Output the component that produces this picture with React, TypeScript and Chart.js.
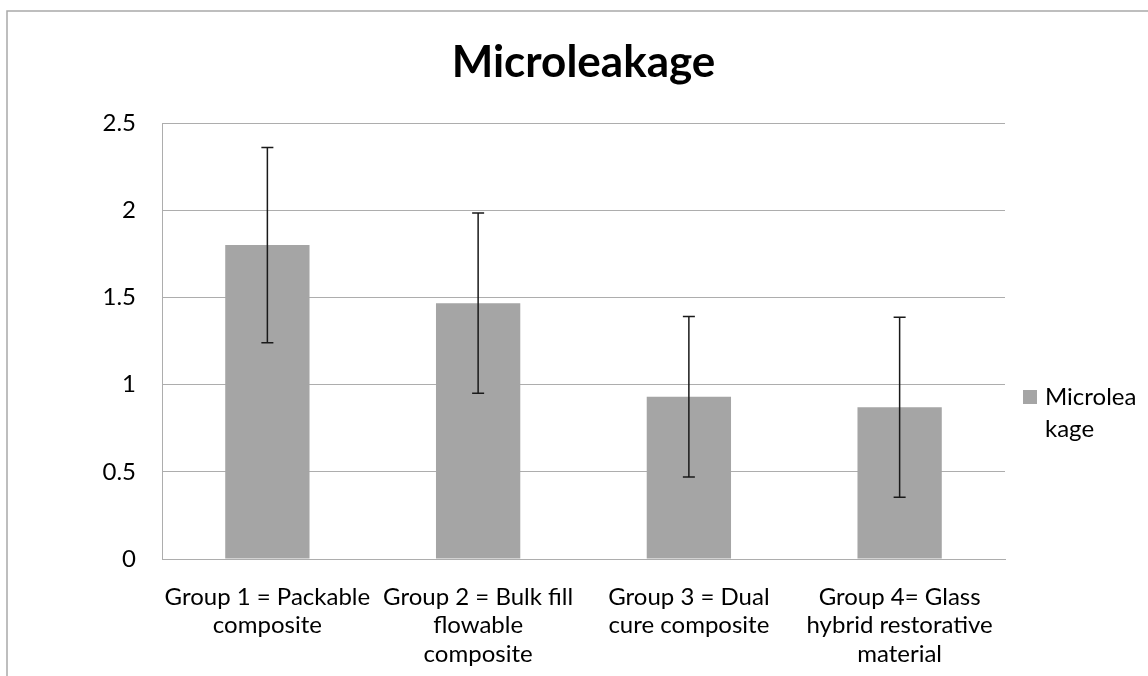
import React, { useEffect, useRef } from "react";
import { Chart, registerables } from "chart.js";

Chart.register(...registerables);

const TITLE = "Microleakage";
const SERIES_NAME = "Microleakage";
const LEGEND_LINES = ["Microlea", "kage"];
const categories: string[][] = [
  ["Group 1 = Packable", "composite"],
  ["Group 2 = Bulk fill", "flowable", "composite"],
  ["Group 3 = Dual", "cure composite"],
  ["Group 4= Glass", "hybrid restorative", "material"],
];
const values = [1.8, 1.467, 0.93, 0.87];
const errors = [0.56, 0.517, 0.46, 0.516];
const yTicks = [0, 0.5, 1, 1.5, 2, 2.5];

const FONT = "Lato";
const BAR_COLOR = "#A5A5A5";
const GRID_COLOR = "#ADADAD";

export default function App() {
  const ref = useRef<HTMLCanvasElement | null>(null);

  useEffect(() => {
    if (!ref.current) return;
    const errorBars = {
      id: "errorBars",
      afterDatasetsDraw(chart: any) {
        const ctx = chart.ctx;
        const meta = chart.getDatasetMeta(0);
        const ys = chart.scales.y;
        ctx.save();
        ctx.strokeStyle = "#1a1a1a";
        ctx.lineWidth = 1.5;
        meta.data.forEach((el: any, i: number) => {
          const x = el.x;
          const t = ys.getPixelForValue(values[i] + errors[i]);
          const b = ys.getPixelForValue(values[i] - errors[i]);
          ctx.beginPath();
          ctx.moveTo(x, t);
          ctx.lineTo(x, b);
          ctx.moveTo(x - 6, t);
          ctx.lineTo(x + 6, t);
          ctx.moveTo(x - 6, b);
          ctx.lineTo(x + 6, b);
          ctx.stroke();
        });
        ctx.restore();
      },
    };
    const decor = {
      id: "decor",
      beforeDraw(chart: any) {
        const ctx = chart.ctx;
        ctx.save();
        ctx.fillStyle = "#ffffff";
        ctx.fillRect(0, 0, chart.width, chart.height);
        ctx.strokeStyle = "#A9A9A9";
        ctx.lineWidth = 1.5;
        ctx.beginPath();
        ctx.moveTo(7, chart.height);
        ctx.lineTo(7, 11);
        ctx.lineTo(chart.width, 11);
        ctx.stroke();
        ctx.restore();
      },
      afterDraw(chart: any) {
        const ctx = chart.ctx;
        ctx.save();
        ctx.fillStyle = "#000";
        ctx.textAlign = "center";
        ctx.textBaseline = "alphabetic";
        ctx.font = `bold 44px ${FONT}`;
        ctx.fillText(TITLE, 583.5, 77);
        // legend
        ctx.fillStyle = BAR_COLOR;
        ctx.fillRect(1023, 390, 14, 14);
        ctx.fillStyle = "#000";
        ctx.textAlign = "left";
        ctx.font = `24px ${FONT}`;
        ctx.fillText(LEGEND_LINES[0], 1045, 405);
        ctx.fillText(LEGEND_LINES[1], 1045, 437);
        ctx.restore();
      },
    };
    const chart = new Chart(ref.current, {
      type: "bar",
      data: {
        labels: categories,
        datasets: [
          {
            label: SERIES_NAME,
            data: values,
            backgroundColor: BAR_COLOR,
            borderWidth: 0,
            categoryPercentage: 1,
            barPercentage: 0.4,
          },
        ],
      },
      options: {
        responsive: false,
        animation: false,
        layout: { padding: { top: 123, right: 143, bottom: 0, left: 0 } },
        plugins: {
          legend: { display: false },
          title: { display: false },
          tooltip: { enabled: false },
        },
        scales: {
          x: {
            grid: { display: false, drawTicks: false },
            border: { display: true, color: GRID_COLOR, width: 1 },
            ticks: {
              color: "#000",
              font: { family: FONT, size: 24, lineHeight: 1.18 },
              padding: 24,
              maxRotation: 0,
              autoSkip: false,
            },
            afterFit(scale: any) {
              scale.height = 117;
            },
          },
          y: {
            min: 0,
            max: 2.5,
            afterBuildTicks(scale: any) {
              scale.ticks = yTicks.map((v) => ({ value: v }));
            },
            grid: { color: GRID_COLOR, drawTicks: false, lineWidth: 1 },
            border: { display: true, color: GRID_COLOR, width: 1 },
            ticks: {
              color: "#000",
              font: { family: FONT, size: 24 },
              padding: 26,
              callback: (v: any) => String(v),
            },
            afterFit(scale: any) {
              scale.width = 162;
            },
          },
        },
      },
      plugins: [decor, errorBars],
    });
    return () => chart.destroy();
  }, []);

  return (
    <div style={{ position: "fixed", left: 0, top: 0, width: 1148, height: 676, background: "#fff" }}>
      <canvas ref={ref} width={1148} height={676} style={{ display: "block" }} />
    </div>
  );
}
